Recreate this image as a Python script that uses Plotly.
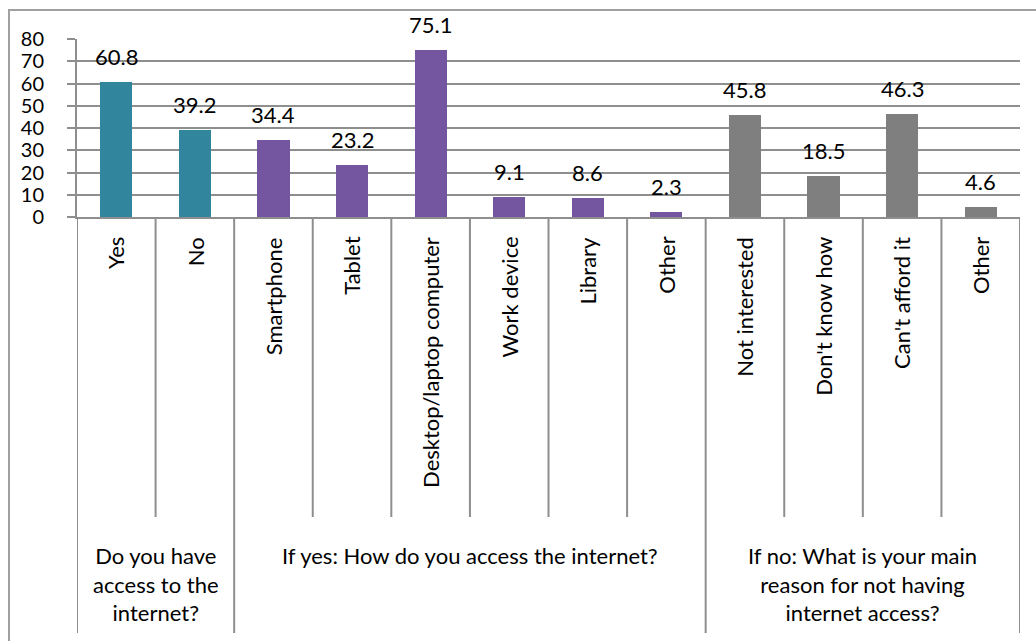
import plotly.graph_objects as go

# ---- data ----
groups = [
    "Do you have<br>access to the<br>internet?",
    "If yes: How do you access the internet?",
    "If no: What is your main<br>reason for not having<br>internet access?",
]
group_categories = [
    ["Yes", "No"],
    ["Smartphone", "Tablet", "Desktop/laptop computer", "Work device", "Library", "Other"],
    ["Not interested", "Don't know how", "Can't afford it", "Other"],
]
group_values = [
    [60.8, 39.2],
    [34.4, 23.2, 75.1, 9.1, 8.6, 2.3],
    [45.8, 18.5, 46.3, 4.6],
]
group_colors = ["#31859C", "#7355A0", "#7F7F7F"]
y_ticks = [0, 10, 20, 30, 40, 50, 60, 70, 80]

# ---- derived ----
labels, values, colors, xs = [], [], [], []
for gi, (cats, vals) in enumerate(zip(group_categories, group_values)):
    for c, v in zip(cats, vals):
        xs.append(len(labels))
        labels.append(c)
        values.append(v)
        colors.append(group_colors[gi])

FONT = "Lato"
GRID = "#8E8E8E"
n = len(labels)

fig = go.Figure()
fig.add_trace(go.Bar(
    x=xs, y=values, width=0.41,
    marker=dict(color=colors, line=dict(width=0)),
    hoverinfo="skip", showlegend=False,
))

annotations = []
# data labels
for x, v in zip(xs, values):
    annotations.append(dict(
        x=x, y=v, xref="x", yref="y", text=f"{v:.1f}", showarrow=False,
        yanchor="bottom", xanchor="center", yshift=10,
        font=dict(family=FONT, size=22, color="#000000"),
    ))
# category labels (rotated)
for x, lab in zip(xs, labels):
    annotations.append(dict(
        x=x, y=-0.10, xref="x", yref="paper", text=lab, showarrow=False,
        textangle=-90, yanchor="top", xanchor="center",
        font=dict(family=FONT, size=22, color="#000000"),
    ))

shapes = []
# separators
start = 0
y_cat_bottom = -(517 - 217) / 178
y_grp_bottom = -(633 - 217) / 178
shapes.append(dict(type="line", xref="x", yref="paper", x0=-0.5, x1=-0.5,
                   y0=0, y1=y_grp_bottom, line=dict(color=GRID, width=2)))
for gi, cats in enumerate(group_categories):
    for k in range(1, len(cats)):
        xb = start + k - 0.5
        shapes.append(dict(type="line", xref="x", yref="paper", x0=xb, x1=xb,
                           y0=0, y1=y_cat_bottom, line=dict(color=GRID, width=2)))
    end = start + len(cats)
    shapes.append(dict(type="line", xref="x", yref="paper", x0=end - 0.5, x1=end - 0.5,
                       y0=0, y1=y_grp_bottom, line=dict(color=GRID, width=2)))
    annotations.append(dict(
        x=(start + end - 1) / 2, y=-(540 - 217) / 178, xref="x", yref="paper",
        text=groups[gi], showarrow=False, yanchor="top", xanchor="center",
        align="center",
        font=dict(family=FONT, size=22, color="#000000"),
    ))
    start = end

# chart border
shapes.append(dict(type="rect", xref="paper", yref="paper",
                   x0=(9 - 77) / 943, x1=1.2, y0=-3.0, y1=1 + (39 - 10) / 178,
                   line=dict(color="#A0A0A0", width=2), layer="below"))

fig.update_layout(
    width=1036, height=641,
    margin=dict(l=77, r=16, t=39, b=424),
    paper_bgcolor="white", plot_bgcolor="white",
    bargap=0,
    annotations=annotations, shapes=shapes,
    font=dict(family=FONT, size=22, color="#000000"),
)
fig.update_xaxes(
    range=[-0.5, n - 0.5], showticklabels=False, showgrid=False,
    showline=True, linecolor=GRID, linewidth=2, zeroline=False, ticks="",
)
fig.update_yaxes(
    range=[0, 80], tickvals=y_ticks, showgrid=True, gridcolor=GRID, gridwidth=2,
    showline=True, linecolor=GRID, linewidth=2, zeroline=False,
    ticks="outside", ticklen=8, tickcolor=GRID, tickwidth=2,
    ticklabelstandoff=19,
    tickfont=dict(family=FONT, size=20, color="#000000"),
)

fig.write_html("out.html")
